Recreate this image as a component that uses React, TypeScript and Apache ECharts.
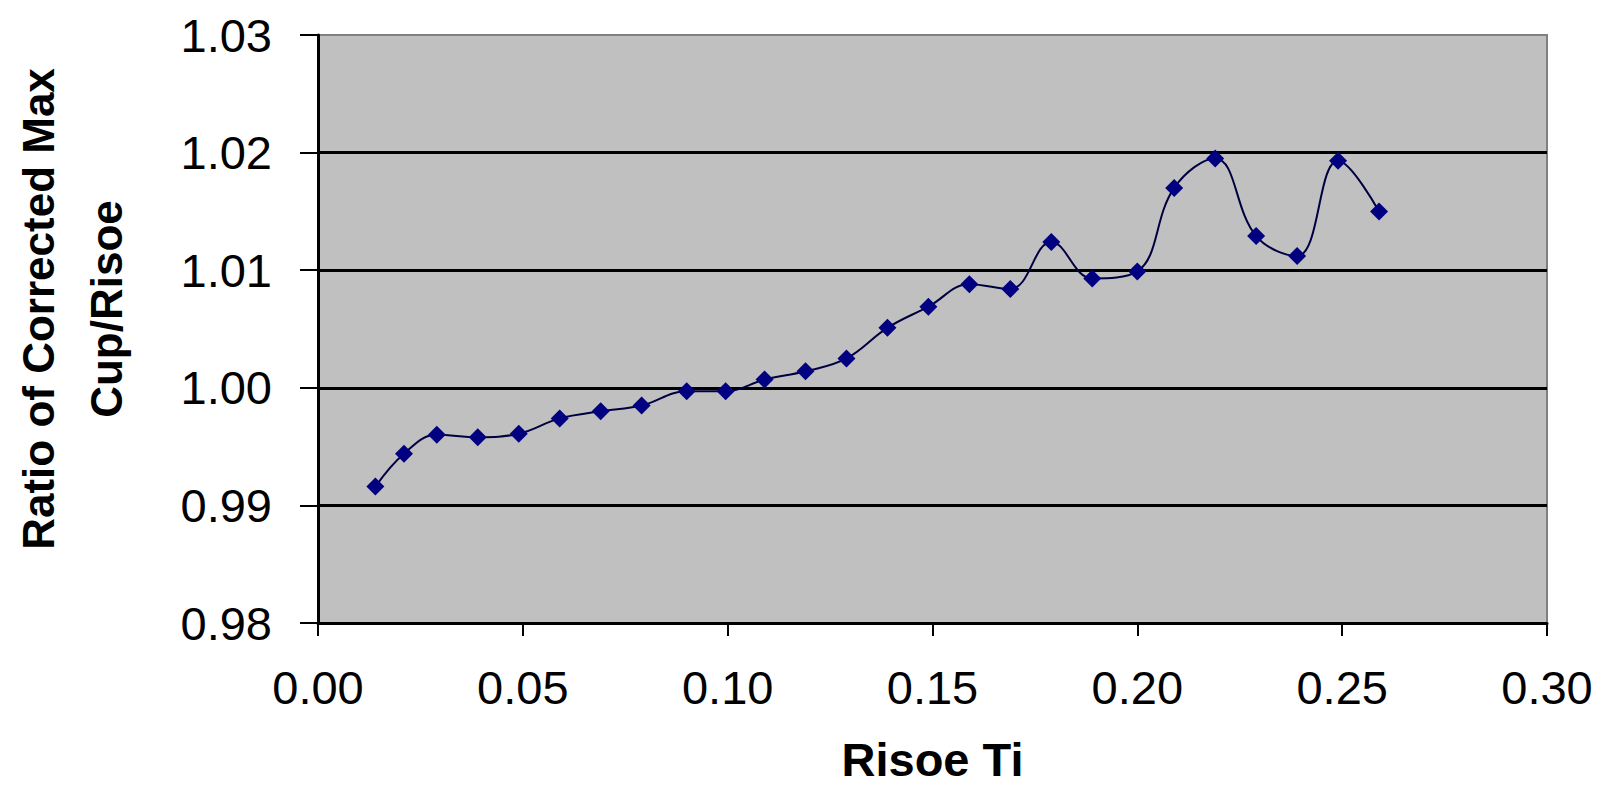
import React, { useEffect, useRef } from "react";
import * as echarts from "echarts";

const xValues = [0.014, 0.021, 0.029, 0.039, 0.049, 0.059, 0.069, 0.079, 0.09, 0.0995, 0.109, 0.119, 0.129, 0.139, 0.149, 0.159, 0.169, 0.179, 0.189, 0.2, 0.209, 0.219, 0.229, 0.239, 0.249, 0.259];
const yValues = [0.9916, 0.9944, 0.996, 0.9958, 0.9961, 0.9974, 0.998, 0.9985, 0.9997, 0.9997, 1.0007, 1.0014, 1.0025, 1.0051, 1.0069, 1.0088, 1.0084, 1.0124, 1.0093, 1.0099, 1.017, 1.0195, 1.0129, 1.0112, 1.0193, 1.015];
const xTitle = "Risoe Ti";
const yTitleLines = ["Ratio of Corrected Max", "Cup/Risoe"];

const FONT = "'Liberation Sans', Arial, sans-serif";

export default function App() {
  const ref = useRef<HTMLDivElement>(null);
  useEffect(() => {
    if (!ref.current) return;
    const chart = echarts.init(ref.current, undefined, { renderer: "svg" });
    const data = xValues.map((x, i) => [x, yValues[i]]);
    chart.setOption({
      animation: false,
      backgroundColor: "#ffffff",
      grid: {
        left: 318,
        right: 55,
        top: 35,
        bottom: 166,
        containLabel: false,
        outerBoundsMode: "none",
        show: true,
        backgroundColor: "#c0c0c0",
        borderColor: "#808080",
        borderWidth: 2,
      },
      xAxis: {
        type: "value",
        min: 0,
        max: 0.3,
        interval: 0.05,
        name: xTitle,
        nameLocation: "middle",
        nameGap: 113,
        nameTextStyle: { fontFamily: FONT, fontSize: 47, fontWeight: "bold", color: "#000" },
        axisLine: { show: true, onZero: false, lineStyle: { color: "#000", width: 3 } },
        axisTick: { show: true, inside: false, length: 13, lineStyle: { color: "#000", width: 2 } },
        axisLabel: {
          margin: 41,
          fontFamily: FONT,
          fontSize: 47,
          color: "#000",
          formatter: (v: number) => v.toFixed(2),
        },
        splitLine: { show: false },
      },
      yAxis: {
        type: "value",
        min: 0.98,
        max: 1.03,
        interval: 0.01,
        axisLine: { show: true, onZero: false, lineStyle: { color: "#000", width: 3 } },
        axisTick: { show: true, inside: false, length: 18, lineStyle: { color: "#000", width: 2 } },
        axisLabel: {
          margin: 46,
          fontFamily: FONT,
          fontSize: 47,
          color: "#000",
          formatter: (v: number) => v.toFixed(2),
        },
        splitLine: {
          show: true,
          showMinLine: false,
          showMaxLine: false,
          lineStyle: { color: "#000", width: 3 },
        },
      },
      graphic: [
        {
          type: "text",
          x: 72,
          y: 309,
          rotation: Math.PI / 2,
          style: {
            text: yTitleLines.join("\n"),
            fontFamily: FONT,
            fontSize: 44,
            fontWeight: "bold",
            lineHeight: 68,
            fill: "#000",
            align: "center",
            verticalAlign: "middle",
          },
        },
      ],
      series: [
        {
          type: "line",
          data,
          smooth: 0.4,
          symbol: "diamond",
          symbolSize: 18,
          lineStyle: { color: "#000040", width: 2 },
          itemStyle: { color: "#000080" },
        },
      ],
    });
    return () => chart.dispose();
  }, []);
  return <div ref={ref} style={{ position: "fixed", left: 0, top: 0, width: 1602, height: 789 }} />;
}
